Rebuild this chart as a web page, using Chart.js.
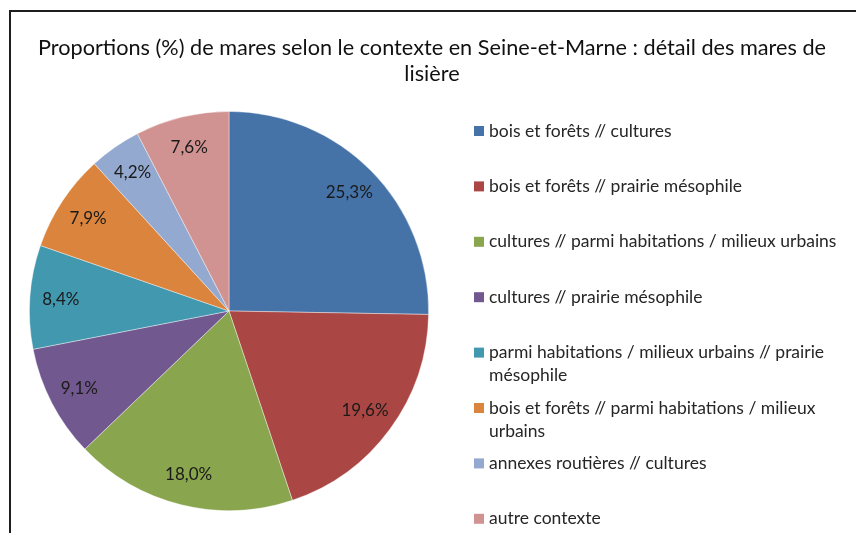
<!DOCTYPE html>
<html>
<head>
<meta charset="utf-8">
<script src="https://cdn.jsdelivr.net/npm/chart.js@4"></script>
<style>
body { margin: 0; background: #fff; overflow: hidden; }
#wrap { position: relative; width: 856px; height: 533px; }
#frame { position: absolute; left: 9px; top: 10px; width: 900px; height: 600px; border-top: 2px solid #1e1e1e; border-left: 2px solid #1e1e1e; }
canvas { position: absolute; left: 0; top: 0; }
</style>
</head>
<body>
<div id="wrap">
<div id="frame"></div>
<canvas id="pie_chart" width="856" height="533"></canvas>
</div>
<script>
var titleLines = ['Proportions (%) de mares selon le contexte en Seine-et-Marne : détail des mares de', 'lisière'];
var contextes = [
    'bois et forêts // cultures',
    'bois et forêts // prairie mésophile',
    'cultures // parmi habitations / milieux urbains',
    'cultures // prairie mésophile',
    'parmi habitations / milieux urbains // prairie mésophile',
    'bois et forêts // parmi habitations / milieux urbains',
    'annexes routières // cultures',
    'autre contexte'
];
var proportions = [25.3, 19.6, 18.0, 9.1, 8.4, 7.9, 4.2, 7.6];
var couleurs = ['#4572A7', '#AA4643', '#89A54E', '#71588F', '#4198AF', '#DB843D', '#93A9CF', '#D19392'];

var FONT = 'Lato, "Open Sans", sans-serif';

function pct(v) {
    return v.toFixed(1).replace('.', ',') + '%';
}

// title, slice labels and the legend on the right
var extras = {
    id: 'extras',
    afterDraw: function(chart) {
        var c = chart.ctx;
        c.save();
        c.textBaseline = 'middle';

        c.fillStyle = '#111';
        c.font = '21.7px ' + FONT;
        c.textAlign = 'center';
        for (var i = 0; i < titleLines.length; i++) {
            c.fillText(titleLines[i], 432, 48 + i * 26);
        }

        c.font = '17px ' + FONT;
        c.fillStyle = '#1a1a1a';
        var arcs = chart.getDatasetMeta(0).data;
        arcs.forEach(function(arc, i) {
            var p = arc.getProps(['x', 'y', 'startAngle', 'endAngle', 'outerRadius'], true);
            var mid = (p.startAngle + p.endAngle) / 2;
            var r = p.outerRadius * 0.845;
            c.fillText(pct(proportions[i]), p.x + Math.cos(mid) * r, p.y + Math.sin(mid) * r);
        });

        c.textAlign = 'left';
        c.font = '17.5px ' + FONT;
        var maxW = 360;
        contextes.forEach(function(lab, i) {
            var y = 131 + i * 55.4;
            c.fillStyle = couleurs[i];
            c.fillRect(474, y - 5, 10, 10);
            c.fillStyle = '#262626';
            var words = lab.split(' ');
            var line = '';
            var ly = y;
            words.forEach(function(w) {
                var test = line ? line + ' ' + w : w;
                if (line && c.measureText(test).width > maxW) {
                    c.fillText(line, 489, ly);
                    line = w;
                    ly += 23;
                } else {
                    line = test;
                }
            });
            c.fillText(line, 489, ly);
        });
        c.restore();
    }
};

const ctx = document.getElementById('pie_chart');
new Chart(ctx, {
    type: 'pie',
    data: {
        labels: contextes,
        datasets: [{
            data: proportions,
            backgroundColor: couleurs,
            borderColor: 'rgba(255,255,255,0.5)',
            borderWidth: 0.8
        }]
    },
    options: {
        responsive: false,
        animation: false,
        layout: {
            padding: { left: 29, right: 427, top: 111, bottom: 22 }
        },
        plugins: {
            legend: { display: false },
            title: { display: false },
            tooltip: { enabled: false }
        }
    },
    plugins: [extras]
});
</script>
</body>
</html>
